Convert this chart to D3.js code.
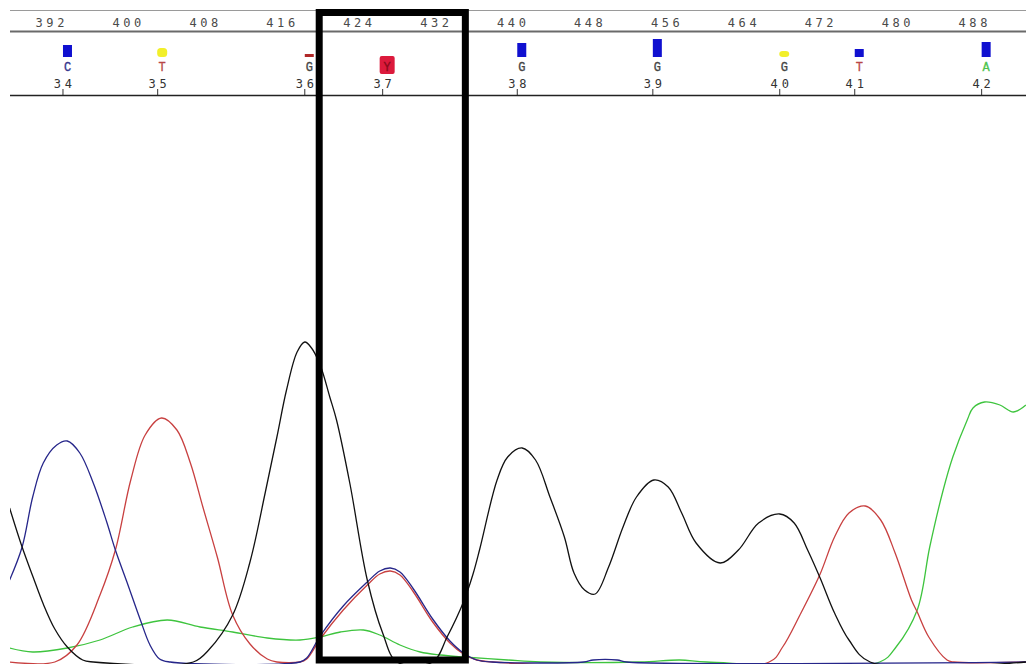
<!DOCTYPE html>
<html><head><meta charset="utf-8">
<script src="https://cdn.jsdelivr.net/npm/d3@7"></script>
<style>
html,body{margin:0;padding:0;background:#fff;}
svg{display:block;}
</style></head>
<body>
<svg id="chart" width="1026" height="664"></svg>
<script>
// ---- data ----
const rulerTicks = [392,400,408,416,424,432,440,448,456,464,472,480,488];
const baseNumbers = [34,35,36,37,38,39,40,41,42];
const baseScans   = [393.35,403.2,418.5,426.6,440.6,454.7,467.9,475.7,488.9];
const baseLetters = ["C","T","G","Y","G","G","G","T","A"];
const baseQuality = [12,9,3,0,14,18,6,8,15];
const qualityClass = ["high","low","poor","ambiguous","high","high","low","high","high"];

// traces: [scan, intensity]
const traceA = [[387.8,14],[390.2,10],[393.8,14],[397.2,22],[400.6,35],[404.2,42],[407.6,35],[411.0,30],[414.6,24],[418.0,22],[420.1,25],[422.2,30],[424.6,32],[426.3,27],[428.4,17],[430.5,10],[432.6,7],[435.0,5],[439.6,2],[443.0,0],[453.4,0],[457.5,2],[460.3,0],[478.3,0],[480.0,15],[482.2,52],[483.5,115],[484.9,172],[485.9,205],[487.4,242],[488.0,254],[489.2,260],[490.8,257],[492.2,250],[493.5,257]];
const traceC = [[387.8,82],[389.1,115],[390.2,165],[391.3,199],[392.7,217],[393.8,221],[395.1,209],[396.5,179],[397.9,140],[398.8,112],[400.0,80],[401.4,42],[402.4,17],[403.4,3],[404.5,0],[418.0,0],[418.7,4],[420.1,26],[422.5,56],[425.0,80],[426.3,91],[427.4,94],[428.4,90],[429.8,73],[431.8,43],[433.6,21],[435.0,9],[436.4,2],[438.0,0],[447.5,0],[448.5,2],[451.0,2],[452.0,0],[493.5,0]];
const traceG = [[387.8,154],[389.1,115],[390.2,86],[391.3,58],[392.5,33],[393.8,15],[395.4,2],[396.5,0],[406.9,0],[408.5,12],[411.0,47],[412.8,100],[414.4,170],[415.6,225],[416.6,272],[417.7,310],[418.5,320],[419.2,314],[420.1,297],[421.1,265],[421.8,242],[423.2,178],[425.0,82],[426.6,29],[428.1,0],[431.8,0],[433.3,25],[435.0,60],[436.0,88],[436.7,113],[438.5,182],[439.6,205],[441.1,214],[442.5,202],[444.0,165],[445.5,125],[446.5,89],[447.6,72],[448.7,68],[450.1,95],[451.6,135],[453.0,165],[454.8,182],[456.3,175],[457.7,149],[459.2,119],[461.7,99],[463.6,112],[465.7,139],[467.9,148],[469.4,139],[470.8,112],[472.1,84],[473.6,49],[475.1,22],[477.3,0],[493.5,0]];
const traceT = [[387.8,0],[392.5,0],[394.8,17],[397.2,67],[398.8,112],[400.4,182],[401.9,227],[403.6,244],[405.2,232],[406.6,199],[407.9,155],[409.4,105],[411.0,47],[412.8,18],[414.6,3],[415.6,0],[418.0,0],[418.7,3],[420.1,23],[422.5,52],[425.0,77],[426.3,88],[427.4,91],[428.4,87],[429.8,70],[431.8,40],[433.6,19],[435.0,8],[436.4,2],[438.0,0],[466.8,0],[468.2,15],[470.0,47],[472.1,88],[473.6,125],[475.1,149],[476.8,156],[478.4,142],[479.9,109],[481.6,62],[482.2,50],[483.4,25],[485.3,2],[486.0,0],[493.5,0]];

// ---- drawing ----
const svg = d3.select("#chart");
const W = 1026, H = 664, left = 10;
const x = d3.scaleLinear().domain([392, 488]).range([50, 973]);
const y = d3.scaleLinear().domain([0, 650]).range([662, 12]);

svg.append("rect").attr("width", W).attr("height", H).attr("fill", "#fff");

// ruler
svg.append("line").attr("x1", left).attr("x2", W).attr("y1", 10.5).attr("y2", 10.5)
  .attr("stroke", "#9a9a9a").attr("stroke-width", 1);
svg.append("line").attr("x1", left).attr("x2", W).attr("y1", 31.5).attr("y2", 31.5)
  .attr("stroke", "#6a6a6a").attr("stroke-width", 2);
svg.append("g").selectAll("text").data(rulerTicks).join("text")
  .attr("x", d => x(d) + 1.8).attr("y", 27)
  .attr("text-anchor", "middle")
  .attr("font-family", "DejaVu Sans Mono, monospace")
  .attr("font-size", 12).attr("letter-spacing", 3.6)
  .attr("fill", "#4a4a4a")
  .text(d => d);

// base-call row
const qColor = {high:"#1010d0", low:"#f2ef2a", poor:"#b02828", ambiguous:"#dc1a3c"};
const letterColor = {C:"#34348c", T:"#b84646", G:"#444444", A:"#4cc44c", Y:"#8a0a1a"};
const bg = svg.append("g");
baseScans.forEach((s, i) => {
  const cx = x(s) + 4.5;
  const cls = qualityClass[i];
  if (cls === "ambiguous") {
    bg.append("rect").attr("x", cx - 7.5).attr("y", 56).attr("width", 15).attr("height", 18)
      .attr("rx", 2).attr("fill", qColor[cls]);
  } else if (cls === "low") {
    bg.append("rect").attr("x", cx - 5).attr("y", 57 - baseQuality[i]).attr("width", 10)
      .attr("height", baseQuality[i]).attr("rx", 3.5).attr("fill", qColor[cls]);
  } else {
    bg.append("rect").attr("x", cx - 4.5).attr("y", 57 - baseQuality[i]).attr("width", 9)
      .attr("height", baseQuality[i]).attr("fill", qColor[cls]);
  }
  bg.append("text").attr("x", cx).attr("y", 71)
    .attr("text-anchor", "middle")
    .attr("font-family", "Liberation Mono, Courier New, monospace")
    .attr("font-size", 12)
    .attr("stroke", letterColor[baseLetters[i]]).attr("stroke-width", 0.3)
    .attr("fill", letterColor[baseLetters[i]])
    .text(baseLetters[i]);
  bg.append("text").attr("x", x(s) + 1.9).attr("y", 88)
    .attr("text-anchor", "middle")
    .attr("font-family", "DejaVu Sans Mono, monospace")
    .attr("font-size", 12).attr("letter-spacing", 3.8)
    .attr("fill", "#333")
    .text(baseNumbers[i]);
  bg.append("line").attr("x1", x(s)).attr("x2", x(s)).attr("y1", 89).attr("y2", 95)
    .attr("stroke", "#333").attr("stroke-width", 1);
});
svg.append("line").attr("x1", left).attr("x2", W).attr("y1", 95.5).attr("y2", 95.5)
  .attr("stroke", "#222").attr("stroke-width", 1.5);

// traces
svg.append("clipPath").attr("id", "plotclip").append("rect")
  .attr("x", left).attr("y", 97).attr("width", W - left).attr("height", H - 97);
const line = d3.line().x(d => x(d[0])).y(d => y(d[1])).curve(d3.curveCatmullRom.alpha(0.5));
const traces = [
  {data: traceA, color: "#3ec43e"},
  {data: traceT, color: "#c84040"},
  {data: traceC, color: "#26268a"},
  {data: traceG, color: "#111111"}
];
const tg = svg.append("g").attr("clip-path", "url(#plotclip)");
traces.forEach(t => {
  tg.append("path").attr("d", line(t.data)).attr("fill", "none")
    .attr("stroke", t.color).attr("stroke-width", 1.3).attr("stroke-linejoin", "round");
});

// highlight box around the ambiguous base
const boxL = x(420.0), boxR = x(435.2);
svg.append("rect").attr("x", boxL).attr("y", 12.5).attr("width", boxR - boxL).attr("height", 647.5)
  .attr("fill", "none").attr("stroke", "#000").attr("stroke-width", 7);
</script>
</body></html>
